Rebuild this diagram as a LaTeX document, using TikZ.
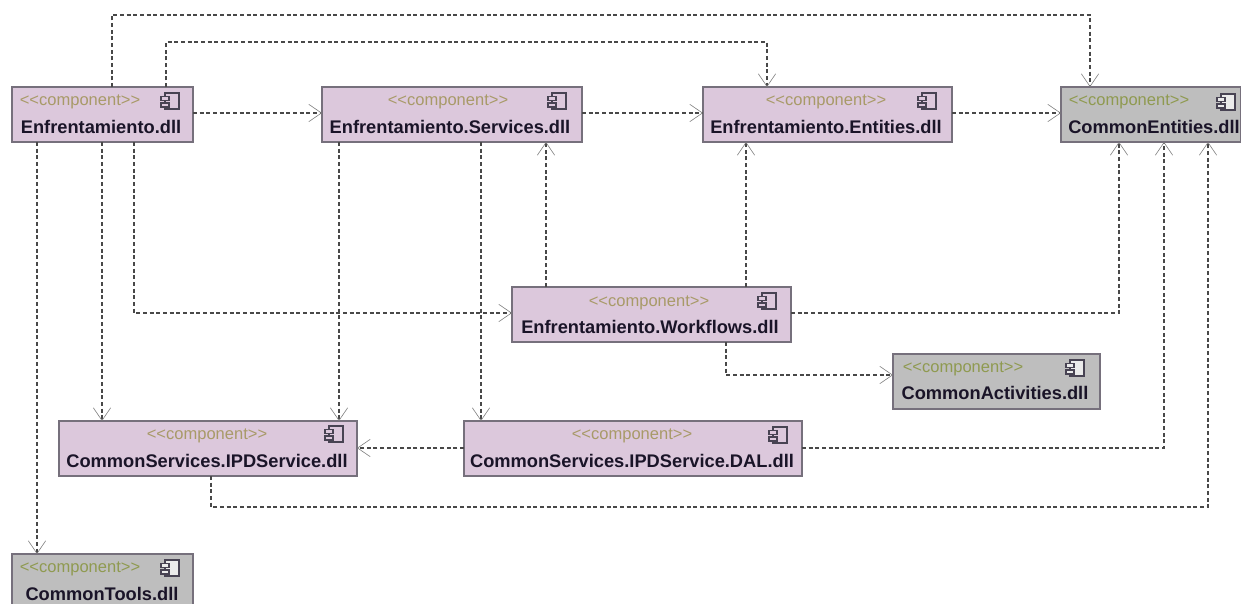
\documentclass[tikz,border=0pt]{standalone}
\usepackage{fontspec}
\setmainfont{Liberation Sans}[Ligatures=NoCommon]
\usetikzlibrary{arrows.meta}
\definecolor{purp}{HTML}{DCC8DC}
\definecolor{grayb}{HTML}{BEBEBE}
\definecolor{edgec}{HTML}{76707C}
\definecolor{ster}{HTML}{A89A68}
\definecolor{sterg}{HTML}{8F9A50}
\definecolor{namec}{HTML}{1A1428}
\definecolor{linec}{HTML}{484848}
\tikzset{
 x=0.75pt,y=-0.75pt,
 box/.style={draw=edgec,line width=1pt,inner sep=0pt,outer sep=0pt,anchor=north west,minimum height=41.25pt},
 pbox/.style={box,fill=purp},
 gbox/.style={box,fill=grayb},
 stereo/.style={text=ster,font=\fontsize{12.4pt}{14pt}\selectfont,inner sep=0pt,anchor=center,yshift=-1.2pt},
 stereog/.style={stereo,text=sterg},
 dllname/.style={text=namec,font=\fontsize{13.7pt}{15pt}\selectfont\bfseries,inner sep=0pt,anchor=center},
 dep/.style={draw=linec,line width=0.85pt,dash pattern=on 3pt off 2pt,
   -{Straight Barb[length=9.5pt,width=13pt,line width=0.45pt,color=gray]}},
}
\newcommand{\compicon}[3]{%
 \begin{scope}[shift={(#1,#2)}]
  \draw[namec!80!white,line width=0.8pt,fill=#3] (-5,-8) rectangle (9,8);
  \draw[namec!80!white,line width=0.8pt,fill=#3] (-9,-4.5) rectangle (-1,-0.5);
  \draw[namec!80!white,line width=0.8pt,fill=#3] (-9,2) rectangle (-1,6);
 \end{scope}}
\begin{document}
\begin{tikzpicture}
\clip (0,0) rectangle (1241,603);
\fill[white] (0,0) rectangle (1241,603);
% boxes
\node[pbox,minimum width=135.75pt] (E) at (12,87) {};
\node[pbox,minimum width=195pt] (S) at (322,87) {};
\node[pbox,minimum width=186.75pt] (N) at (703,87) {};
\node[gbox,minimum width=135pt] (C) at (1061,87) {};
\node[pbox,minimum width=209.25pt] (W) at (512,287) {};
\node[gbox,minimum width=155.25pt] (A) at (893,354) {};
\node[pbox,minimum width=223.5pt] (I) at (59,421) {};
\node[pbox,minimum width=253.5pt] (D) at (464,421) {};
\node[gbox,minimum width=135.75pt,minimum height=45pt] (T) at (12,554) {};
% stereotypes
\node[stereo] (Es) at (80,100) {{<}{<}component{>}{>}};
\node[stereo] (Ss) at (448,100) {{<}{<}component{>}{>}};
\node[stereo] (Ns) at (826,100) {{<}{<}component{>}{>}};
\node[stereog] (Cs) at (1129,100) {{<}{<}component{>}{>}};
\node[stereo] (Ws) at (649,301) {{<}{<}component{>}{>}};
\node[stereog] (As) at (963,367) {{<}{<}component{>}{>}};
\node[stereo] (Is) at (207,434) {{<}{<}component{>}{>}};
\node[stereo] (Ds) at (632,434) {{<}{<}component{>}{>}};
\node[stereog] (Ts) at (80,567) {{<}{<}component{>}{>}};
% names
\node[dllname] (En) at (101,127) {Enfrentamiento.dll};
\node[dllname] (Sn) at (450,127) {Enfrentamiento.Services.dll};
\node[dllname] (Nn) at (826,127) {Enfrentamiento.Entities.dll};
\node[dllname] (Cn) at (1154,127) {CommonEntities.dll};
\node[dllname] (Wn) at (650,327) {Enfrentamiento.Workflows.dll};
\node[dllname] (An) at (995,393) {CommonActivities.dll};
\node[dllname] (In) at (207,461) {CommonServices.IPDService.dll};
\node[dllname] (Dn) at (632,461) {CommonServices.IPDService.DAL.dll};
\node[dllname] (Tn) at (102,594) {CommonTools.dll};
% icons
\compicon{170}{101}{purp}\compicon{557}{101}{purp}\compicon{927}{101}{purp}\compicon{1226}{102}{grayb!30!white}
\compicon{767}{301}{purp}\compicon{1075}{368}{grayb!30!white}\compicon{334}{434}{purp}\compicon{778}{435}{purp}
\compicon{170}{568}{grayb!30!white}
% connectors
\draw[dep] (E.north -| 112,0) -- (112,15) -- (1090,15) -- (C.north -| 1090,0);
\draw[dep] (E.north -| 166,0) -- (166,42) -- (767,42) -- (N.north -| 767,0);
\draw[dep] (E.east |- 0,113) -- (S.west |- 0,113);
\draw[dep] (S.east |- 0,113) -- (N.west |- 0,113);
\draw[dep] (N.east |- 0,113) -- (C.west |- 0,113);
\draw[dep] (E.south -| 37,0) -- (T.north -| 37,0);
\draw[dep] (E.south -| 102,0) -- (I.north -| 102,0);
\draw[dep] (E.south -| 134,0) -- (134,313) -- (W.west |- 0,313);
\draw[dep] (S.south -| 339,0) -- (I.north -| 339,0);
\draw[dep] (S.south -| 481,0) -- (D.north -| 481,0);
\draw[dep] (W.north -| 546,0) -- (S.south -| 546,0);
\draw[dep] (W.north -| 746,0) -- (N.south -| 746,0);
\draw[dep] (W.east |- 0,313) -- (1119,313) -- (C.south -| 1119,0);
\draw[dep] (W.south -| 726,0) -- (726,375) -- (A.west |- 0,375);
\draw[dep] (D.west |- 0,448) -- (I.east |- 0,448);
\draw[dep] (D.east |- 0,448) -- (1164,448) -- (C.south -| 1164,0);
\draw[dep] (I.south -| 211,0) -- (211,507) -- (1208,507) -- (C.south -| 1208,0);
\end{tikzpicture}
\end{document}
